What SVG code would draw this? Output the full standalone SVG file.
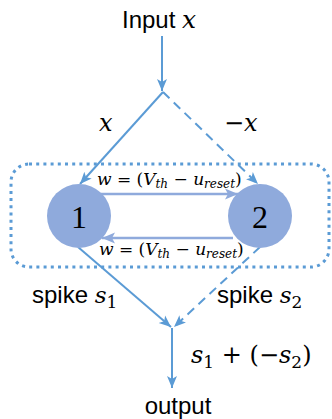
<svg xmlns="http://www.w3.org/2000/svg" width="332" height="419" viewBox="0 0 332 419">
<style>
.t{font-family:"Liberation Sans",Arial,sans-serif;font-size:24px;fill:#000}
.m{font-family:"DejaVu Serif","Liberation Serif",serif;font-style:italic;fill:#000}
.u{font-style:normal}
.ln{stroke:#5B9BD5;stroke-width:2;fill:none}
.dash{stroke-dasharray:9 6}
.h{stroke:#8FAADC;stroke-width:2.7;fill:none}
.node{fill:#8FAADC}
.num{font-family:"Liberation Serif","DejaVu Serif",serif;font-size:32px;fill:#000}
</style>
<defs>
<marker id="a" markerUnits="userSpaceOnUse" markerWidth="13" markerHeight="11" refX="12" refY="5.5" orient="auto"><path d="M0,0.5 L12,5.5 L0,10.5 L3,5.5 z" fill="#5B9BD5"/></marker>
<marker id="b" markerUnits="userSpaceOnUse" markerWidth="14" markerHeight="12" refX="13" refY="6" orient="auto"><path d="M0,0.5 L13,6 L0,11.5 L3,6 z" fill="#8FAADC"/></marker>
</defs>
<rect x="11" y="164" width="318" height="103" rx="18" fill="none" stroke="#5B9BD5" stroke-width="3" stroke-dasharray="3 4.2"/>
<g id="connectors">
<line class="ln" x1="162" y1="36" x2="162" y2="91" marker-end="url(#a)"/>
<line class="ln" x1="163" y1="92" x2="80" y2="184" marker-end="url(#a)"/>
<line class="ln dash" x1="163" y1="92" x2="258" y2="184" marker-end="url(#a)"/>
<line class="h" x1="101" y1="194" x2="238" y2="194" marker-end="url(#b)"/>
<line class="h" x1="233" y1="238" x2="102" y2="238" marker-end="url(#b)"/>
<line class="ln" x1="78" y1="247" x2="171" y2="327" marker-end="url(#a)"/>
<line class="ln dash" x1="260" y1="247" x2="174" y2="327" marker-end="url(#a)"/>
<line class="ln" x1="172" y1="328" x2="172" y2="388" marker-end="url(#a)"/>
</g>
<g id="node1"><circle class="node" cx="79" cy="216" r="32"/><text class="num" x="79" y="228" text-anchor="middle">1</text></g>
<g id="node2"><circle class="node" cx="260" cy="216" r="32"/><text class="num" x="260" y="228" text-anchor="middle">2</text></g>
<g id="labels">
<text class="t" x="122" y="28">Input <tspan class="m" font-size="25">x</tspan></text>
<text class="m" x="99" y="131" font-size="24">x</text>
<text class="m" x="224" y="131" font-size="24"><tspan class="u">−</tspan>x</text>
<text class="m" x="97" y="185" font-size="17">w <tspan class="u">= (</tspan>V<tspan font-size="12" dy="3">th</tspan><tspan class="u" dy="-3"> − </tspan>u<tspan font-size="12" dy="3">reset</tspan><tspan class="u" dy="-3">)</tspan></text>
<text class="m" x="99" y="255" font-size="17">w <tspan class="u">= (</tspan>V<tspan font-size="12" dy="3">th</tspan><tspan class="u" dy="-3"> − </tspan>u<tspan font-size="12" dy="3">reset</tspan><tspan class="u" dy="-3">)</tspan></text>
<text class="t" x="32" y="303">spike <tspan class="m" font-size="23">s</tspan><tspan class="m u" font-size="17" dy="5">1</tspan></text>
<text class="t" x="217" y="303">spike <tspan class="m" font-size="23">s</tspan><tspan class="m u" font-size="17" dy="5">2</tspan></text>
<text class="m" x="191" y="363" font-size="24">s<tspan class="u" font-size="17" dy="5">1</tspan><tspan class="u" dy="-5"> + (−</tspan>s<tspan class="u" font-size="17" dy="5">2</tspan><tspan class="u" dy="-5">)</tspan></text>
<text class="t" x="178" y="414" text-anchor="middle">output</text>
</g>
</svg>
